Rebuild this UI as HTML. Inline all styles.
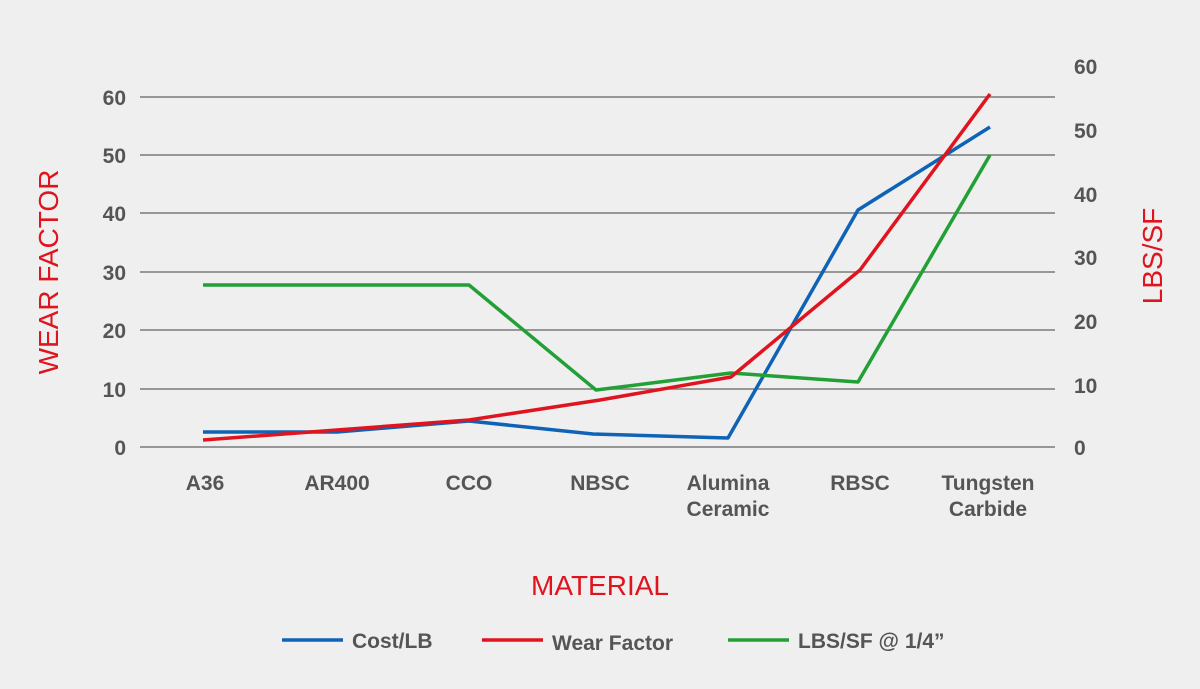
<!DOCTYPE html>
<html><head><meta charset="utf-8"><style>
html,body{margin:0;padding:0;background:#efefef;}
svg{display:block;}
text{font-family:"Liberation Sans","DejaVu Sans",sans-serif;}
</style></head><body>
<svg width="1200" height="689" viewBox="0 0 1200 689" xmlns="http://www.w3.org/2000/svg">
<rect width="1200" height="689" fill="#efefef"/>
<g stroke="#7a7a7a" stroke-width="1.5">
<line x1="140" y1="97" x2="1055" y2="97"/>
<line x1="140" y1="155" x2="1055" y2="155"/>
<line x1="140" y1="213" x2="1055" y2="213"/>
<line x1="140" y1="272" x2="1055" y2="272"/>
<line x1="140" y1="330" x2="1055" y2="330"/>
<line x1="140" y1="389" x2="1055" y2="389"/>
<line x1="140" y1="447" x2="1055" y2="447"/>
</g>
<g fill="#555" font-size="21" font-weight="bold" text-anchor="end">
<text x="126" y="105">60</text><text x="126" y="163">50</text><text x="126" y="221">40</text>
<text x="126" y="280">30</text><text x="126" y="338">20</text><text x="126" y="397">10</text>
<text x="126" y="455">0</text>
</g>
<g fill="#555" font-size="21" font-weight="bold" text-anchor="start">
<text x="1074" y="74">60</text><text x="1074" y="138">50</text><text x="1074" y="202">40</text>
<text x="1074" y="265">30</text><text x="1074" y="329">20</text><text x="1074" y="393">10</text>
<text x="1074" y="455">0</text>
</g>
<g fill="#555" font-size="21" font-weight="bold" text-anchor="middle">
<text x="205" y="490">A36</text><text x="337" y="490">AR400</text><text x="469" y="490">CCO</text>
<text x="600" y="490">NBSC</text><text x="728" y="490">Alumina</text><text x="728" y="516">Ceramic</text>
<text x="860" y="490">RBSC</text><text x="988" y="490">Tungsten</text><text x="988" y="516">Carbide</text>
</g>
<text x="600" y="595" fill="#e0141e" font-size="28" text-anchor="middle">MATERIAL</text>
<text transform="translate(58,272) rotate(-90)" fill="#e0141e" font-size="28" text-anchor="middle">WEAR FACTOR</text>
<text transform="translate(1162,256) rotate(-90)" fill="#e0141e" font-size="28" text-anchor="middle">LBS/SF</text>
<g fill="none" stroke-width="3.5" stroke-linejoin="round">
<polyline stroke="#0e63b6" points="203,432 337,432 469,421 593,434 728,438 858,210 990,127"/>
<polyline stroke="#22a036" points="203,285 469,285 596,390 731,373 858,382 990,155"/>
<polyline stroke="#e0141e" points="203,440 337,430 469,420 600,400 731,377 860,270 990,94"/>
</g>
<g stroke-width="3.5">
<line x1="282" y1="640" x2="343" y2="640" stroke="#0e63b6"/>
<line x1="482" y1="640" x2="543" y2="640" stroke="#e0141e"/>
<line x1="728" y1="640" x2="789" y2="640" stroke="#22a036"/>
</g>
<g fill="#555" font-size="21" font-weight="bold">
<text x="352" y="648">Cost/LB</text>
<text x="552" y="650">Wear Factor</text>
<text x="798" y="648">LBS/SF @ 1/4”</text>
</g>
</svg>
</body></html>
